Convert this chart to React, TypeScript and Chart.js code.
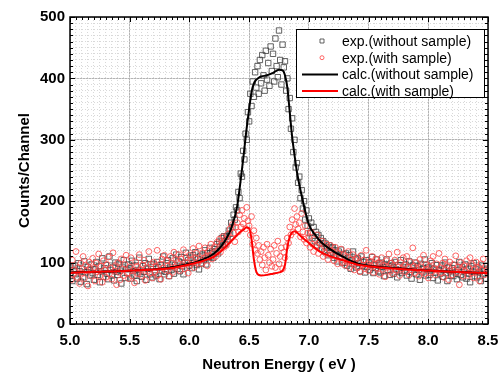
import React, { useEffect, useRef } from "react";
import { Chart, registerables } from "chart.js";

Chart.register(...registerables);

// Channel energies: 5.00 .. 8.50 eV, one channel every 0.01 eV
const CHANNEL_START = 5.0;
const CHANNEL_STEP = 0.01;

// exp.(without sample) counts per channel
const expWithout = [
  78, 92, 70, 88, 95, 81, 74, 99, 86, 69,
  90, 76, 102, 84, 65, 93, 88, 79, 97, 83,
  72, 89, 101, 80, 94, 68, 86, 107, 77, 91,
  96, 82, 73, 110, 88, 79, 93, 71, 100, 85,
  80, 98, 87, 66, 92, 104, 75, 89, 83, 97,
  91, 74, 103, 86, 79, 95, 70, 88, 108, 82,
  77, 94, 85, 99, 72, 90, 106, 81, 93, 76,
  98, 84, 79, 101, 92, 73, 96, 87, 110, 81,
  85, 99, 104, 78, 93, 88, 107, 82, 96, 113,
  90, 102, 86, 109, 94, 81, 99, 116, 92, 104,
  95, 108, 91, 112, 100, 117, 96, 106, 89, 110,
  99, 113, 104, 120, 97, 115, 108, 124, 110, 118,
  108, 122, 118, 130, 115, 134, 127, 140, 129, 143,
  130, 142, 138, 152, 147, 165, 158, 178, 170, 190,
  185, 215, 205, 245, 240, 282, 268, 310, 300, 345,
  330, 375, 355, 395, 370, 410, 385, 420, 375, 430,
  392, 438, 405, 380, 445, 398, 425, 388, 452, 412,
  440, 395, 465, 420, 402, 478, 430, 390, 455, 418,
  428, 380, 400, 350, 368, 318, 335, 280, 300, 255,
  262, 230, 240, 205, 218, 188, 200, 170, 185, 160,
  172, 148, 165, 140, 158, 135, 150, 128, 145, 132,
  140, 122, 135, 118, 131, 125, 112, 128, 115, 124,
  125, 108, 120, 113, 102, 118, 110, 121, 99, 114,
  100, 115, 95, 108, 112, 90, 104, 118, 97, 106,
  92, 107, 99, 86, 110, 95, 101, 84, 104, 93,
  100, 88, 96, 109, 83, 97, 91, 105, 86, 99,
  84, 100, 93, 78, 97, 105, 88, 94, 80, 99,
  95, 82, 101, 89, 76, 96, 87, 104, 83, 92,
  86, 97, 79, 93, 102, 85, 74, 95, 88, 100,
  81, 94, 88, 72, 98, 84, 91, 105, 79, 90,
  93, 80, 87, 99, 75, 90, 84, 96, 71, 88,
  82, 95, 77, 89, 100, 83, 70, 92, 86, 79,
  91, 78, 96, 84, 73, 88, 101, 80, 93, 76,
  87, 97, 74, 90, 82, 68, 94, 85, 99, 78,
  89, 76, 92, 84, 70, 95, 81, 88, 74, 90,
  84,
];

// exp.(with sample) counts per channel
const expWith = [
  95, 72, 104, 81, 88, 118, 76, 92, 66, 99,
  83, 110, 74, 96, 87, 62, 101, 90, 79, 107,
  92, 70, 99, 85, 114, 78, 94, 68, 103, 88,
  76, 97, 109, 82, 91, 73, 116, 86, 95, 64,
  100, 84, 72, 106, 90, 79, 97, 112, 83, 74,
  93, 108, 78, 88, 67, 101, 94, 82, 113, 89,
  79, 96, 104, 71, 92, 86, 118, 83, 98, 75,
  101, 85, 94, 120, 80, 97, 73, 106, 91, 112,
  88, 103, 95, 78, 110, 99, 84, 117, 93, 105,
  100, 113, 87, 106, 95, 121, 90, 109, 99, 83,
  112, 97, 105, 123, 92, 108, 115, 99, 127, 104,
  98, 116, 107, 124, 110, 95, 119, 112, 130, 106,
  115, 126, 110, 133, 121, 138, 117, 130, 142, 125,
  138, 128, 146, 135, 155, 140, 162, 148, 134, 158,
  165, 150, 178, 158, 185, 163, 172, 155, 190, 168,
  160, 145, 175, 130, 152, 120, 140, 115, 128, 105,
  118, 96, 125, 108, 88, 130, 112, 100, 122, 94,
  105, 128, 92, 115, 135, 98, 110, 124, 90, 117,
  108, 126, 140, 132, 158, 145, 170, 150, 188, 162,
  175, 155, 165, 142, 180, 150, 138, 160, 132, 148,
  142, 125, 150, 130, 118, 138, 127, 145, 115, 132,
  122, 135, 110, 126, 115, 130, 105, 120, 128, 112,
  118, 103, 125, 110, 98, 115, 108, 122, 100, 112,
  96, 110, 102, 118, 92, 105, 99, 113, 88, 104,
  108, 92, 100, 85, 112, 96, 104, 90, 120, 98,
  87, 102, 95, 110, 84, 98, 106, 91, 100, 81,
  97, 108, 89, 95, 77, 103, 92, 114, 86, 99,
  82, 95, 104, 88, 117, 93, 79, 100, 90, 108,
  96, 85, 110, 92, 80, 101, 88, 124, 94, 83,
  100, 90, 78, 105, 93, 86, 112, 82, 97, 89,
  75, 94, 103, 85, 110, 90, 80, 98, 87, 115,
  92, 83, 99, 76, 106, 89, 95, 72, 101, 86,
  80, 97, 88, 111, 84, 93, 64, 100, 90, 78,
  95, 86, 103, 79, 92, 108, 83, 97, 75, 89,
  101, 84, 92, 70, 98, 88, 106, 80, 94, 85,
  90,
];

// calculated curves
const calcX = [
  5.0, 5.2, 5.4, 5.6, 5.8, 5.9, 6.0, 6.1, 6.2, 6.25, 6.3, 6.35, 6.4, 6.425,
  6.45, 6.475, 6.5, 6.52, 6.54, 6.56, 6.58, 6.6, 6.65, 6.7, 6.75, 6.78, 6.8,
  6.82, 6.84, 6.86, 6.88, 6.9, 6.95, 7.0, 7.05, 7.1, 7.2, 7.3, 7.4, 7.5, 7.6,
  7.8, 8.0, 8.2, 8.5,
];
const calcWithout = [
  84, 85, 86, 88, 91, 94, 98, 104, 114, 123, 136, 156, 192, 228,
  268, 312, 350, 378, 392, 398, 401, 403, 405, 409, 414, 413, 405,
  385, 345, 305, 275, 248, 200, 162, 146, 134, 119, 108, 99, 95, 93,
  90, 87, 85, 83,
];
const calcWith = [
  83, 85, 86, 88, 90, 93, 97, 102, 109, 116, 125, 135, 145, 150,
  153, 157, 156, 138, 105, 85, 80, 79, 80, 82, 84, 87, 96,
  125, 142, 149, 151, 149, 140, 132, 124, 117, 109, 103, 97, 94, 92,
  89, 87, 85, 83,
];

const xMajorTicks = { min: 5.0, max: 8.5, step: 0.5, minor: 0.05 };
const yMajorTicks = { min: 0, max: 500, step: 100, minor: 10 };

const seriesLabels = [
  "exp.(without sample)",
  "exp.(with sample)",
  "calc.(without sample)",
  "calc.(with sample)",
];

const FONT = "'Liberation Sans', Arial, sans-serif";

const framePlugin = {
  id: "frameTicks",
  afterDatasetsDraw(chart: any) {
    const { ctx, chartArea: a, scales } = chart;
    const x = scales.x;
    const y = scales.y;
    ctx.save();
    ctx.strokeStyle = "#000";
    ctx.lineWidth = 1;
    const drawX = (ticks: any[], len: number) => {
      ticks.forEach((t) => {
        const p = Math.round(x.getPixelForValue(t.value)) + 0.5;
        ctx.beginPath();
        ctx.moveTo(p, a.bottom);
        ctx.lineTo(p, a.bottom - len);
        ctx.moveTo(p, a.top);
        ctx.lineTo(p, a.top + len);
        ctx.stroke();
      });
    };
    const drawY = (ticks: any[], len: number) => {
      ticks.forEach((t) => {
        const p = Math.round(y.getPixelForValue(t.value)) + 0.5;
        ctx.beginPath();
        ctx.moveTo(a.left, p);
        ctx.lineTo(a.left + len, p);
        ctx.moveTo(a.right, p);
        ctx.lineTo(a.right - len, p);
        ctx.stroke();
      });
    };
    drawX(scales.xMinor.ticks, 3);
    drawX(x.ticks, 5);
    drawY(scales.yMinor.ticks, 3);
    drawY(y.ticks, 5);
    ctx.lineWidth = 1.5;
    ctx.strokeRect(a.left, a.top, a.right - a.left, a.bottom - a.top);
    ctx.restore();
  },
};

const legendPlugin = {
  id: "boxLegend",
  afterDraw(chart: any) {
    const { ctx, chartArea: a } = chart;
    const w = 188;
    const h = 68;
    const bx = a.right - 4 - w;
    const by = a.top + 12;
    ctx.save();
    ctx.fillStyle = "#fff";
    ctx.fillRect(bx, by, w, h);
    ctx.strokeStyle = "#000";
    ctx.lineWidth = 1;
    ctx.strokeRect(bx + 0.5, by + 0.5, w, h);
    chart.data.datasets.forEach((ds: any, i: number) => {
      const cy = by + 12 + i * 16.7;
      if (ds.showLine) {
        ctx.strokeStyle = ds.borderColor;
        ctx.lineWidth = 2;
        ctx.beginPath();
        ctx.moveTo(bx + 6, cy);
        ctx.lineTo(bx + 42, cy);
        ctx.stroke();
      } else {
        ctx.strokeStyle = ds.pointBorderColor;
        ctx.lineWidth = 1;
        ctx.beginPath();
        if (ds.pointStyle === "rect") {
          ctx.rect(bx + 24, cy - 2, 4, 4);
        } else {
          ctx.arc(bx + 26, cy, 2, 0, Math.PI * 2);
        }
        ctx.stroke();
      }
      ctx.fillStyle = "#000";
      ctx.font = `14px ${FONT}`;
      ctx.textBaseline = "middle";
      ctx.textAlign = "left";
      ctx.fillText(ds.label, bx + 46, cy + 1);
    });
    ctx.restore();
  },
};

export default function App() {
  const ref = useRef<HTMLCanvasElement | null>(null);

  useEffect(() => {
    if (!ref.current) return;
    const channelX = expWithout.map((_, i) =>
      Number((CHANNEL_START + CHANNEL_STEP * i).toFixed(2))
    );
    const ptsWithout = expWithout.map((v, i) => ({ x: channelX[i], y: v }));
    const ptsWith = expWith.map((v, i) => ({ x: channelX[i], y: v }));
    const lineWithout = calcX.map((x, i) => ({ x, y: calcWithout[i] }));
    const lineWith = calcX.map((x, i) => ({ x, y: calcWith[i] }));

    const tickFont = { family: FONT, size: 15, weight: "bold" as const };

    const chart = new Chart(ref.current, {
      type: "scatter",
      data: {
        datasets: [
          {
            label: seriesLabels[0],
            data: ptsWithout,
            xAxisID: "x",
            yAxisID: "y",
            showLine: false,
            pointStyle: "rect",
            pointRadius: 3.8,
            pointBorderWidth: 1,
            pointBorderColor: "rgba(60,60,60,0.8)",
            pointBackgroundColor: "rgba(0,0,0,0)",
            order: 3,
          } as any,
          {
            label: seriesLabels[1],
            data: ptsWith,
            xAxisID: "x",
            yAxisID: "y",
            showLine: false,
            pointStyle: "circle",
            pointRadius: 2.9,
            pointBorderWidth: 1,
            pointBorderColor: "rgba(255,75,75,0.85)",
            pointBackgroundColor: "rgba(0,0,0,0)",
            order: 2,
          } as any,
          {
            label: seriesLabels[2],
            data: lineWithout,
            xAxisID: "x",
            yAxisID: "y",
            showLine: true,
            borderColor: "#000",
            borderWidth: 2,
            pointRadius: 0,
            cubicInterpolationMode: "monotone",
            tension: 0.3,
            order: 1,
          } as any,
          {
            label: seriesLabels[3],
            data: lineWith,
            xAxisID: "x",
            yAxisID: "y",
            showLine: true,
            borderColor: "#ff0000",
            borderWidth: 2,
            pointRadius: 0,
            cubicInterpolationMode: "monotone",
            tension: 0.3,
            order: 0,
          } as any,
        ],
      },
      options: {
        responsive: false,
        animation: false,
        layout: { padding: { top: 17, right: 14, left: 0, bottom: 0 } },
        plugins: {
          legend: { display: false },
          tooltip: { enabled: false },
        },
        scales: {
          x: {
            type: "linear",
            position: "bottom",
            min: xMajorTicks.min,
            max: xMajorTicks.max,
            afterFit: (s: any) => {
              s.height = 52;
              s.paddingLeft = 10;
              s.paddingRight = 10;
            },
            ticks: {
              stepSize: xMajorTicks.step,
              callback: (v: any) => Number(v).toFixed(1),
              font: tickFont,
              color: "#000",
              padding: 8,
              maxRotation: 0,
              autoSkip: false,
            },
            grid: { color: "#b4b4b4", drawTicks: false, lineWidth: 1 },
            border: { display: false },
            title: {
              display: true,
              text: "Neutron Energy ( eV )",
              font: tickFont,
              color: "#000",
              padding: { top: 0, bottom: 2 },
            },
          },
          xMinor: {
            type: "linear",
            position: "bottom",
            min: xMajorTicks.min,
            max: xMajorTicks.max,
            afterFit: (s: any) => {
              s.height = 0;
              s.paddingLeft = 0;
              s.paddingRight = 0;
            },
            ticks: {
              display: false,
              stepSize: xMajorTicks.minor,
              maxTicksLimit: 1000,
            },
            grid: { color: "#d9d9d9", drawTicks: false, lineWidth: 1 },
            border: { display: false, dash: [1, 2] },
          },
          y: {
            type: "linear",
            position: "left",
            min: yMajorTicks.min,
            max: yMajorTicks.max,
            afterFit: (s: any) => {
              s.width = 70;
            },
            ticks: {
              stepSize: yMajorTicks.step,
              font: tickFont,
              color: "#000",
              padding: 5,
            },
            grid: { color: "#b4b4b4", drawTicks: false, lineWidth: 1 },
            border: { display: false },
            title: {
              display: true,
              text: "Counts/Channel",
              font: tickFont,
              color: "#000",
              padding: { top: 16, bottom: 0 },
            },
          },
          yMinor: {
            type: "linear",
            position: "left",
            min: yMajorTicks.min,
            max: yMajorTicks.max,
            afterFit: (s: any) => {
              s.width = 0;
            },
            ticks: {
              display: false,
              stepSize: yMajorTicks.minor,
              maxTicksLimit: 1000,
            },
            grid: { color: "#d9d9d9", drawTicks: false, lineWidth: 1 },
            border: { display: false, dash: [1, 2] },
          },
        },
      } as any,
      plugins: [framePlugin, legendPlugin],
    });
    return () => chart.destroy();
  }, []);

  return (
    <div
      style={{
        position: "fixed",
        left: 0,
        top: 0,
        width: 502,
        height: 376,
        background: "#fff",
      }}
    >
      <canvas ref={ref} width={502} height={376} />
    </div>
  );
}
